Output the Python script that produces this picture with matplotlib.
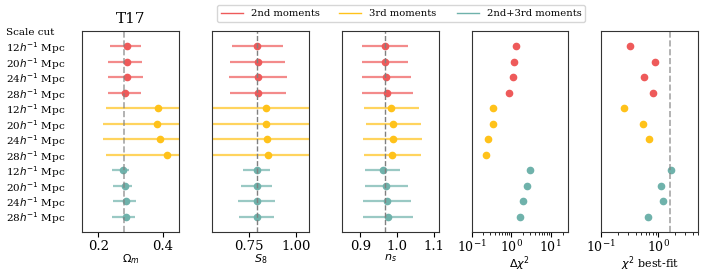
import numpy as np
import matplotlib.pyplot as plt
from matplotlib.lines import Line2D

plt.rcParams['font.family'] = 'DejaVu Serif'
plt.rcParams['mathtext.fontset'] = 'dejavusans'

cuts = ['12', '20', '24', '28']
series = ['2nd moments', '3rd moments', '2nd+3rd moments']
colors = ['#ee5a5a', '#ffc21a', '#6fb2ab']

# best fit and 68% bounds, one row per series, one column per scale cut
om_mid = [[0.2875, 0.2896, 0.2875, 0.283], [0.385, 0.381, 0.392, 0.4135], [0.276, 0.283, 0.2865, 0.2865]]
om_lo = [[0.2365, 0.231, 0.229, 0.230], [0.223, 0.215, 0.2135, 0.222], [0.2406, 0.245, 0.244, 0.243]]
om_hi = [[0.332, 0.336, 0.339, 0.333], [0.52, 0.52, 0.52, 0.52], [0.2948, 0.304, 0.3156, 0.3125]]

s8_mid = [[0.7917, 0.795, 0.799, 0.795], [0.842, 0.842, 0.844, 0.848], [0.7935, 0.7935, 0.7935, 0.7935]]
s8_lo = [[0.6576, 0.6467, 0.641, 0.6486], [0.50, 0.50, 0.50, 0.50], [0.7156, 0.7065, 0.690, 0.6938]]
s8_hi = [[0.929, 0.9438, 0.9547, 0.949], [1.15, 1.15, 1.15, 1.15], [0.862, 0.871, 0.8877, 0.884]]

ns_mid = [[0.966, 0.967, 0.9697, 0.9724], [0.984, 0.9896, 0.9887, 0.986], [0.9615, 0.9706, 0.9724, 0.975]]
ns_lo = [[0.9036, 0.9045, 0.9036, 0.9036], [0.910, 0.9145, 0.907, 0.909], [0.9127, 0.9118, 0.9063, 0.9063]]
ns_hi = [[1.0285, 1.030, 1.0367, 1.042], [1.058, 1.0638, 1.068, 1.0647], [1.0086, 1.0285, 1.0367, 1.044]]

dchi2 = [[1.31, 1.21, 1.10, 0.91], [0.342, 0.349, 0.256, 0.228], [2.99, 2.57, 2.04, 1.68]]
chi2_bf = [[0.316, 0.862, 0.566, 0.795], [0.251, 0.536, 0.693, np.nan], [1.67, 1.11, 1.21, 0.667]]

om_true, s8_true, ns_true, chi2_ref = 0.279, 0.791, 0.966, 1.6

fig, axes = plt.subplots(1, 5, figsize=(7.06, 2.72), dpi=100)
fig.subplots_adjust(left=0.1166, right=0.9887, bottom=0.147, top=0.886, wspace=0.341)

panels = [(om_mid, om_lo, om_hi), (s8_mid, s8_lo, s8_hi), (ns_mid, ns_lo, ns_hi)]
for ax, (mid, lo, hi) in zip(axes[:3], panels):
    for s in range(3):
        y = np.arange(4) + 4 * s + 1
        m = np.array(mid[s])
        err = [m - np.array(lo[s]), np.array(hi[s]) - m]
        ax.errorbar(m, y, xerr=err, fmt='none', ecolor=colors[s], alpha=0.7, lw=1.6)
        ax.plot(m, y, 'o', color=colors[s], ms=4.5)

for ax, vals in zip(axes[3:], [dchi2, chi2_bf]):
    for s in range(3):
        y = np.arange(4) + 4 * s + 1
        ax.plot(vals[s], y, 'o', color=colors[s], ms=4.5)
    ax.set_xscale('log')

axes[0].axvline(om_true, color='gray', ls='--', lw=1.2, alpha=0.7)
axes[1].axvline(s8_true, color='gray', ls='--', lw=1)
axes[2].axvline(ns_true, color='gray', ls='--', lw=1)
axes[4].axvline(chi2_ref, color='gray', ls='--', lw=1.2, alpha=0.7)

axes[0].set_xlim(0.15, 0.45)
axes[0].set_xticks([0.2, 0.4])
axes[1].set_xlim(0.55, 1.07)
axes[1].set_xticks([0.75, 1.00])
axes[1].set_xticklabels(['0.75', '1.00'])
axes[2].set_xlim(0.85, 1.112)
axes[2].set_xticks([0.9, 1.0, 1.1])
axes[3].set_xlim(0.1, 28)
axes[4].set_xlim(0.1, 5)

xlabels = [r'$\Omega_m$', r'$S_8$', r'$n_s$', r'$\Delta\chi^2$', r'$\chi^2$ best-fit']
ylabels = ['Scale cut'] + [c + r'$h^{-1}$ Mpc' for c in cuts] * 3
for i, ax in enumerate(axes):
    ax.set_ylim(13, 0)
    ax.set_xlabel(xlabels[i], fontsize=8)
    if i >= 3:
        ax.xaxis.set_label_coords(0.5, -0.112)
        ax.tick_params(axis='x', labelsize=9, pad=1.5)
    else:
        ax.xaxis.set_label_coords(0.5, -0.1)
        ax.tick_params(axis='x', labelsize=9.5, pad=2)
    for sp in ax.spines.values():
        sp.set_color('#333333')
    if i == 0:
        ax.set_yticks(np.arange(13))
        ax.set_yticklabels(ylabels, fontsize=7.5, ha='left')
        ax.tick_params(axis='y', length=0, pad=55)
    else:
        ax.set_yticks([])

axes[0].set_title('T17', fontsize=11)

handles = [Line2D([], [], color=c, lw=1) for c in colors]
fig.legend(handles, series, loc='upper center', ncol=3, fontsize=7.2,
           bbox_to_anchor=(0.568, 1.0), handlelength=2.2, columnspacing=2)

plt.savefig('out.png', dpi=100)
